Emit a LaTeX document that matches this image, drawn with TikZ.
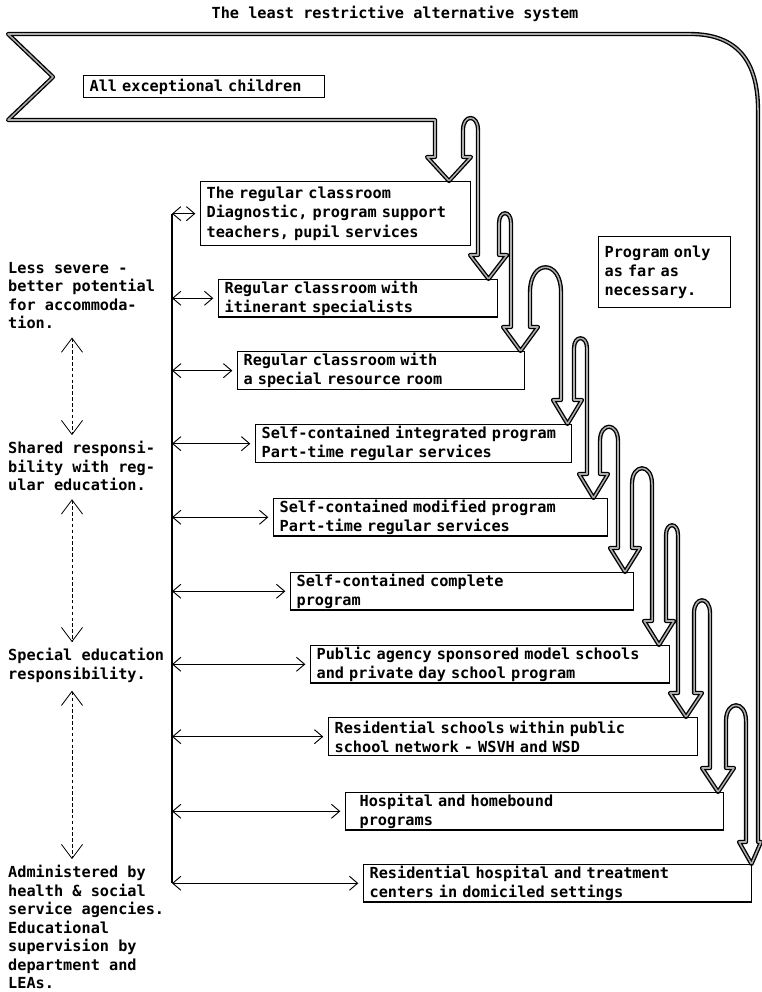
\documentclass[tikz,border=0pt]{standalone}
\usepackage{fontspec}
\setmonofont{DejaVu Sans Mono}
\usetikzlibrary{arrows.meta}

\begin{document}
\begin{tikzpicture}[x=0.03cm, y=-0.03cm,
	font=\ttfamily\bfseries\fontsize{13pt}{16.5pt}\selectfont,
	box/.style={draw, rectangle, line width=1.1pt, anchor=north west, align=left, inner xsep=0.18cm, inner ysep=1pt},
	side/.style={anchor=north west, align=left, inner sep=0pt, font=\ttfamily\bfseries\fontsize{13pt}{15.8pt}\selectfont},
	tube/.style={draw=black, line width=1.15pt, double=gray!65, double distance=1.3pt, line join=round},
	link/.style={<->, >={Straight Barb[length=7pt, width=12pt]}, line width=0.8pt, shorten >=4pt},
	span/.style={<->, >={Straight Barb[length=12pt, width=18pt]}, line width=0.7pt, dash pattern=on 3pt off 2pt}]
	\useasboundingbox (0,0) rectangle (761,992);

	\node (title) at (395,14) {The least restrictive alternative system};

	% the long hollow arrow, folding down the steps
	\draw[tube] (8,34) -- (690,34) .. controls (738,34) and (758,62) .. (758,110)
		-- (758,842) -- (761,842) -- (751.5,864) -- (739,842) -- (746,842)
		-- (746,721) .. controls (746,700) and (726,700) .. (726,721)
		-- (726,768) -- (734,768) -- (718,792) -- (702,768) -- (710,768)
		-- (710,613) .. controls (710,596) and (694,596) .. (694,613)
		-- (694,693) -- (702,693) -- (686,717) -- (670,693) -- (678,693)
		-- (678,535) .. controls (678,522) and (666,522) .. (666,535)
		-- (666,621) -- (674,621) -- (659,645) -- (644,621) -- (652,621)
		-- (652,484) .. controls (652,463) and (632,463) .. (632,484)
		-- (632,548) -- (640,548) -- (625,572) -- (610,548) -- (618,548)
		-- (618,441) .. controls (618,422) and (600,422) .. (600,441)
		-- (600,474) -- (608,474) -- (593.5,498) -- (579,474) -- (587,474)
		-- (587,348) .. controls (587,335) and (574,335) .. (574,348)
		-- (574,400) -- (582,400) -- (567.5,424) -- (553,400) -- (561,400)
		-- (561,292) .. controls (561,259) and (530,259) .. (530,292)
		-- (530,327) -- (538,327) -- (520.5,351) -- (503,327) -- (511,327)
		-- (511,223) .. controls (511,210) and (499,210) .. (499,223)
		-- (499,255) -- (507,255) -- (488.5,279) -- (470,255) -- (478,255)
		-- (478,130) .. controls (478,114) and (463,114) .. (463,130)
		-- (463,157) -- (471,157) -- (449,181) -- (427,157) -- (435,157)
		-- (435,120) -- (8,120) -- (53,77) -- cycle;

	\node[box, minimum width=7.23cm, minimum height=0.66cm, text width=6.87cm] (all) at (83,75) {All exceptional children};

	% placements
	\node[box, minimum width=8.1cm, minimum height=1.92cm, text width=7.74cm] (b1) at (200,181) {The regular classroom\\Diagnostic, program support\\teachers, pupil services};
	\node[box, minimum width=8.37cm, minimum height=1.02cm, text width=8.01cm] (b2) at (218,279) {Regular classroom with\\itinerant specialists};
	\node[box, minimum width=8.61cm, minimum height=1.14cm, text width=8.25cm] (b3) at (237,351) {Regular classroom with\\a special resource room};
	\node[box, minimum width=9.48cm, minimum height=1.14cm, text width=9.12cm] (b4) at (255,424) {Self-contained integrated program\\Part-time regular services};
	\node[box, minimum width=10.02cm, minimum height=1.11cm, text width=9.66cm] (b5) at (273,498) {Self-contained modified program\\Part-time regular services};
	\node[box, minimum width=10.29cm, minimum height=1.08cm, text width=9.93cm] (b6) at (290,572) {Self-contained complete\\program};
	\node[box, minimum width=10.77cm, minimum height=1.08cm, text width=10.41cm] (b7) at (310,645) {Public agency sponsored model schools\\and private day school program};
	\node[box, minimum width=11.07cm, minimum height=1.14cm, text width=10.71cm] (b8) at (328,717) {Residential schools within public\\school network - WSVH and WSD};
	\node[box, minimum width=11.34cm, minimum height=1.08cm, text width=10.5cm, inner xsep=0.42cm] (b9) at (345,792) {Hospital and homebound\\programs};
	\node[box, minimum width=11.64cm, minimum height=1.08cm, text width=11.28cm] (b10) at (363,864) {Residential hospital and treatment\\centers in domiciled settings};

	\node[box, minimum width=3.96cm, minimum height=2.13cm, text width=3.6cm] (only) at (598,236) {Program only\\as far as\\necessary.};

	% left column
	\node[side] (less) at (8,262) {Less severe -\\better potential\\for accommoda-\\tion.};
	\node[side] (shared) at (8,441) {Shared responsi-\\bility with reg-\\ular education.};
	\node[side] (special) at (8,648) {Special education\\responsibility.};
	\node[side] (admin) at (8,865) {Administered by\\health \& social\\service agencies.\\Educational\\supervision by\\department and\\LEAs.};

	\coordinate (dash) at (72,0);
	\draw[span, shorten <=7pt, shorten >=5pt] (dash |- less.south) -- (dash |- shared.north);
	\draw[span, shorten <=7pt, shorten >=5pt] (dash |- shared.south) -- (dash |- special.north);
	\draw[span, shorten <=7pt, shorten >=5pt] (dash |- special.south) -- (dash |- admin.north);

	% spine with the links to each placement
	\coordinate (spine) at (172,0);
	\draw[line width=1.1pt] (spine |- b1.west) -- (spine |- b10.west);
	\foreach \b in {b1,b2,b3,b4,b5,b6,b7,b8,b9,b10}
		\draw[link] (spine |- \b.west) -- (\b.west);
\end{tikzpicture}
\end{document}
